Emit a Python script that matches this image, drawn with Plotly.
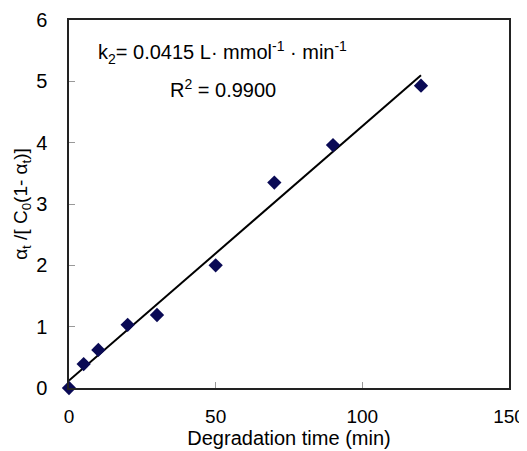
import numpy as np
import plotly.graph_objects as go

time_min = [0, 5, 10, 20, 30, 50, 70, 90, 120]
ratio = [0, 0.39, 0.62, 1.03, 1.19, 2.0, 3.35, 3.96, 4.93]
x_ticks = [0, 50, 100, 150]
y_ticks = [0, 1, 2, 3, 4, 5, 6]

slope, intercept = np.polyfit(time_min, ratio, 1)
fit_x = [min(time_min), max(time_min)]
fit_y = [slope * v + intercept for v in fit_x]

FONT = "Liberation Sans, Arial, sans-serif"

fig = go.Figure()
fig.add_trace(go.Scatter(x=fit_x, y=fit_y, mode="lines",
                         line=dict(color="black", width=2), showlegend=False))
fig.add_trace(go.Scatter(x=time_min, y=ratio, mode="markers",
                         marker=dict(symbol="diamond", size=11, color="#0a0a55"),
                         showlegend=False, cliponaxis=False))

fig.update_layout(
    width=519, height=443,
    margin=dict(l=61, r=18, t=12, b=63, autoexpand=False),
    paper_bgcolor="white", plot_bgcolor="white",
    font=dict(family=FONT, size=19, color="black"),
    xaxis=dict(range=[0, 150], tickvals=x_ticks, ticks="inside", ticklen=6,
               tickcolor="#999", tickwidth=1, automargin=False,
               showline=True, linecolor="#222", linewidth=1.5, mirror=True,
               showgrid=False, zeroline=False, ticklabelstandoff=10,
               ticklabeloverflow="allow",
               title=dict(text="Degradation time (min)", standoff=4, font=dict(size=20)),
               tickfont=dict(size=19)),
    yaxis=dict(range=[0, 6], tickvals=y_ticks, ticks="inside", ticklen=6,
               tickcolor="#999", tickwidth=1, automargin=False,
               showline=True, linecolor="#222", linewidth=1.5, mirror=True,
               showgrid=False, zeroline=False, ticklabelstandoff=16,
               title=dict(text="α<sub>t</sub> /[ C<sub>0</sub>(1- α<sub>t</sub>)]", standoff=3,
                          font=dict(size=19)),
               tickfont=dict(size=20)),
    annotations=[
        dict(text="k<sub>2</sub>= 0.0415 L· mmol<sup>-1</sup> · min<sup>-1</sup>",
             xref="paper", yref="paper", x=0.348, y=0.913, showarrow=False,
             xanchor="center", yanchor="middle", font=dict(size=20)),
        dict(text="R<sup>2</sup> = 0.9900",
             xref="paper", yref="paper", x=0.35, y=0.815, showarrow=False,
             xanchor="center", yanchor="middle", font=dict(size=20)),
    ],
)

fig.write_html("out.html")
